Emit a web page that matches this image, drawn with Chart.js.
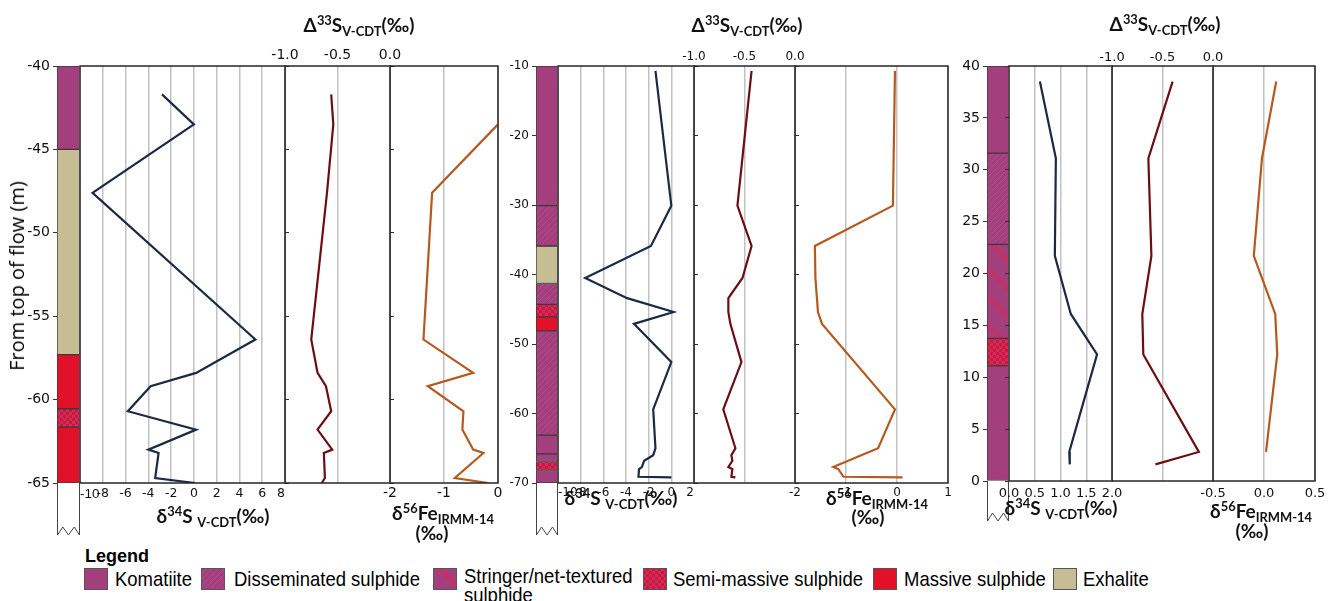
<!DOCTYPE html>
<html>
<head>
<meta charset="utf-8">
<title>S and Fe isotope profiles through komatiite-hosted sulphide</title>
<script src="https://cdn.jsdelivr.net/npm/chart.js@4.4.1/dist/chart.umd.min.js"></script>
<style>
  html, body { margin:0; padding:0; background:#fff; }
  #stage { position:relative; width:1336px; height:601px; overflow:hidden; background:#fff; }
  #stage canvas { position:absolute; }
  .t { position:absolute; white-space:nowrap; color:#111; line-height:1; }
  .ttl { font-family:Lato, 'Open Sans', sans-serif; font-weight:700; font-size:19px; transform:translateX(-50%); }
  .ttl sup { font-size:0.68em; vertical-align:0; position:relative; top:-0.55em; }
  .ttl sub { font-size:0.68em; vertical-align:0; position:relative; top:0.3em; }
  .ytitle { font-family:'Open Sans', sans-serif; font-size:20px; color:#000; transform:translate(-50%,-50%) rotate(-90deg); }
  .lgh { font-family:'Liberation Sans', Arial, sans-serif; font-weight:700; font-size:18px; color:#000; }
  .lg { font-family:'Liberation Sans', Arial, sans-serif; font-size:21px; color:#000; transform-origin:0 0; transform:scaleX(0.88); line-height:19px; }
</style>
</head>
<body>
<div id="stage"></div>
<script>
// ---------- Section A (left): depth from top of flow, m ----------
const depthA  = [-41.7, -43.5, -47.6, -56.4, -58.4, -59.2, -60.7, -61.8, -63.0, -63.2, -64.7, -65.0];
const d34sA   = [-2.8, 0.0, -8.9, 5.4, 0.2, -3.8, -5.8, 0.2, -4.0, -3.1, -3.4, 0.1];
const cap33sA = [-0.56, -0.54, -0.60, -0.75, -0.69, -0.61, -0.56, -0.69, -0.55, -0.63, -0.62, -0.65];
const d56feA  = [null, 0.0, -1.22, -1.38, -0.46, -1.30, -0.64, -0.66, -0.46, -0.27, -0.80, -0.18];
const lithTopA  = [-40, -45, -57.3, -60.55, -61.65];
const lithBaseA = [-45, -57.3, -60.55, -61.65, -65];
const lithTypeA = ['Komatiite', 'Exhalite', 'Massive', 'Semi', 'Massive'];

// ---------- Section B (middle) ----------
const depthB  = [-10.7, -30.1, -35.9, -40.5, -43.4, -45.4, -47.1, -52.6, -59.4, -65.0, -66.0, -66.8, -67.7, -68.0, -69.1, -69.2];
const d34sB   = [-1.4, 0.0, -1.8, -7.6, -3.9, 0.2, -3.3, 0.0, -1.6, -1.4, -1.6, -2.4, -2.6, -2.85, -2.9, 0.0];
const cap33sB = [-0.43, -0.57, -0.43, -0.52, -0.66, -0.66, -0.64, -0.53, -0.71, -0.59, -0.63, -0.62, -0.66, -0.62, -0.63, -0.59];
const d56feB  = [-0.04, -0.08, -1.61, -1.60, -1.57, -1.55, -1.47, null, -0.04, -0.37, null, null, -1.25, -1.15, -1.05, 0.11];
const lithTopB  = [-10, -30.1, -35.9, -41.3, -44.3, -46.1, -48.1, -63.1, -65.8, -66.9, -68.2];
const lithBaseB = [-30.1, -35.9, -41.3, -44.3, -46.1, -48.1, -63.1, -65.8, -66.9, -68.2, -70];
const lithTypeB = ['Komatiite', 'Disseminated', 'Exhalite', 'Disseminated', 'Semi', 'Massive', 'Disseminated', 'Komatiite', 'Komatiite', 'Semi', 'Komatiite'];

// ---------- Section C (right) ----------
const depthC  = [38.5, 31.1, 21.7, 16.1, 12.2, 2.8, 1.6];
const d34sC   = [0.60, 0.91, 0.89, 1.20, 1.71, 1.17, 1.18];
const cap33sC = [-0.40, -0.64, -0.61, -0.70, -0.69, -0.14, -0.57];
const d56feC  = [0.12, -0.02, -0.10, 0.11, 0.13, 0.02, null];
const lithTopC  = [40, 31.6, 22.8, 13.75, 11.1];
const lithBaseC = [31.6, 22.8, 13.75, 11.1, 0];
const lithTypeC = ['Komatiite', 'Disseminated', 'Stringer', 'Semi', 'Komatiite'];

// ---------- Legend ----------
const legendKeys   = ['Komatiite', 'Disseminated', 'Stringer', 'Semi', 'Massive', 'Exhalite'];
const legendLabels = ['Komatiite', 'Disseminated sulphide', 'Stringer/net-textured\nsulphide', 'Semi-massive sulphide', 'Massive sulphide', 'Exhalite'];

const stage = document.getElementById('stage');
const C34 = '#1b2944', C33 = '#6b0e14', CFE = '#b5591f';
const PURPLE = '#a43f7e', RED = '#e3102a', TAN = '#c6bd94';

// Lithology fills as canvas patterns
function makeFill(kind) {
  const c = document.createElement('canvas');
  const g = c.getContext('2d');
  if (kind === 'Komatiite' || kind === 'Massive' || kind === 'Exhalite') {
    c.width = c.height = 4;
    g.fillStyle = kind === 'Komatiite' ? PURPLE : kind === 'Massive' ? RED : TAN;
    g.fillRect(0, 0, 4, 4);
  } else if (kind === 'Disseminated') {
    c.width = c.height = 6;
    g.fillStyle = PURPLE; g.fillRect(0, 0, 6, 6);
    g.fillStyle = '#ae4a89';
    for (let i = 0; i < 6; i++) g.fillRect(i, 5 - i, 1, 1);
  } else if (kind === 'Semi') {
    c.width = c.height = 6;
    g.fillStyle = RED; g.fillRect(0, 0, 6, 6);
    g.fillStyle = '#b8336f';
    g.fillRect(0, 0, 3, 3); g.fillRect(3, 3, 3, 3);
  } else if (kind === 'Stringer') {
    c.width = c.height = 28;
    g.fillStyle = PURPLE; g.fillRect(0, 0, 28, 28);
    for (let y = 0; y < 28; y += 2) {
      for (let x = 0; x < 28; x += 2) {
        const d = (x + (27 - y)) % 28;
        if (d < 11 && ((x + y) / 2) % 2 === 0) { g.fillStyle = '#d42a58'; g.fillRect(x, y, 2, 2); }
      }
    }
  }
  return g.createPattern(c, 'repeat');
}
const fills = {};
legendKeys.forEach(k => { fills[k] = makeFill(k); });

// Plot-area outline
const framePlugin = {
  id: 'frame',
  afterDraw(chart) {
    const { ctx, chartArea: a } = chart;
    ctx.save();
    ctx.strokeStyle = '#262626';
    ctx.lineWidth = 1.5;
    ctx.strokeRect(a.left, a.top, a.right - a.left, a.bottom - a.top);
    ctx.restore();
  }
};

// Open box with a zig-zag break drawn under the lithology column
const tailPlugin = {
  id: 'tail',
  afterDraw(chart, args, o) {
    const { ctx, chartArea: a } = chart;
    const L = a.left, R = a.right, T = a.bottom, B = a.bottom + o.length;
    const w = R - L;
    ctx.save();
    ctx.strokeStyle = '#444';
    ctx.lineWidth = 1;
    ctx.beginPath();
    ctx.moveTo(L + 0.5, T); ctx.lineTo(L + 0.5, B);
    ctx.lineTo(L + w * 0.25, B - 8); ctx.lineTo(L + w * 0.5, B);
    ctx.lineTo(L + w * 0.75, B - 8); ctx.lineTo(R - 0.5, B);
    ctx.lineTo(R - 0.5, T);
    ctx.stroke();
    ctx.restore();
  }
};

function fmt(v, dp) { return Number(v).toFixed(dp); }

function lithColumn(o) {
  const LW = 60, PR = 6, PT = 20, PB = o.tail + 6;
  const cv = document.createElement('canvas');
  cv.width = LW + o.rect.w + PR;
  cv.height = PT + o.rect.h + PB;
  cv.style.left = (o.rect.x - LW) + 'px';
  cv.style.top = (o.rect.y - PT) + 'px';
  stage.appendChild(cv);
  new Chart(cv, {
    type: 'bar',
    data: {
      labels: ['unit'],
      datasets: o.types.map((t, i) => ({
        data: [[o.bases[i], o.tops[i]]],
        backgroundColor: fills[t],
        borderColor: '#3a3a3a',
        borderWidth: 1,
        borderSkipped: false,
        grouped: false,
        barPercentage: 1,
        categoryPercentage: 1
      }))
    },
    options: {
      responsive: false, animation: false, devicePixelRatio: 1, events: [],
      layout: { padding: { left: 0, right: PR, top: PT, bottom: PB } },
      plugins: { legend: { display: false }, tooltip: { enabled: false }, tail: { length: o.tail } },
      scales: {
        x: { display: false },
        y: {
          min: o.ymin, max: o.ymax,
          ticks: { stepSize: o.ystep, padding: 3, color: '#111', font: { family: 'DejaVu Sans', size: o.font } },
          grid: { drawOnChartArea: false, drawTicks: true, tickLength: 4, color: '#333', lineWidth: 1 },
          border: { display: false },
          afterFit(s) { s.width = LW; }
        }
      }
    },
    plugins: [tailPlugin]
  });
}

function profile(o) {
  const PADX = 34, AX = 30;
  const cv = document.createElement('canvas');
  cv.width = o.rect.w + 2 * PADX;
  cv.height = o.rect.h + 2 * AX;
  cv.style.left = (o.rect.x - PADX) + 'px';
  cv.style.top = (o.rect.y - AX) + 'px';
  stage.appendChild(cv);
  const pos = o.axis;
  const pts = [];
  o.depth.forEach((d, i) => { if (o.values[i] !== null) pts.push({ x: o.values[i], y: d }); });
  const tickFont = { family: 'DejaVu Sans', size: o.font };
  const firstFont = o.firstFont || tickFont;
  new Chart(cv, {
    type: 'scatter',
    data: { datasets: [{ data: pts, showLine: true, borderColor: o.color, borderWidth: 2.2, pointRadius: 0, tension: 0 }] },
    options: {
      responsive: false, animation: false, devicePixelRatio: 1, events: [],
      layout: { padding: { left: PADX, right: PADX, top: pos === 'top' ? 0 : AX, bottom: pos === 'top' ? AX : 0 } },
      plugins: { legend: { display: false }, tooltip: { enabled: false } },
      scales: {
        x: {
          type: 'linear', position: pos, min: o.min, max: o.max,
          ticks: { stepSize: o.step, autoSkip: false, maxRotation: 0, padding: o.pad, color: '#111', align: o.align || 'center',
                   font: c => (c.index === 0 ? firstFont : tickFont),
                   callback: v => fmt(v, o.dp) },
          grid: { color: '#c2c2c2', lineWidth: 1.5, drawTicks: false },
          border: { display: false },
          afterFit(s) { s.height = AX; }
        },
        y: {
          type: 'linear', min: o.ymin, max: o.ymax,
          ticks: { display: false, stepSize: o.ystep },
          grid: { drawOnChartArea: false, drawTicks: !!o.ytick, tickLength: o.ytick || 0, color: '#333', lineWidth: 1 },
          border: { display: false },
          afterFit(s) { s.width = 0; }
        }
      }
    },
    plugins: [framePlugin]
  });
}

// ---------- Section A ----------
const yA = { ymin: -65, ymax: -40, ystep: 5 };
lithColumn({ rect: { x: 57, y: 66, w: 23, h: 417 }, ...yA, tops: lithTopA, bases: lithBaseA, types: lithTypeA, font: 14, tail: 52 });
profile({ rect: { x: 80, y: 66, w: 205, h: 417 }, ...yA, depth: depthA, values: d34sA, color: C34, min: -10, max: 8, step: 2, dp: 0, axis: 'bottom', font: 12.5, firstFont: { family: 'Liberation Sans', size: 13.5 }, pad: 3, align: 'inner' });
profile({ rect: { x: 285, y: 66, w: 105, h: 417 }, ...yA, depth: depthA, values: cap33sA, color: C33, min: -1, max: 0, step: 0.5, dp: 1, axis: 'top', font: 14, pad: 2, ytick: -4 });
profile({ rect: { x: 390, y: 66, w: 108, h: 417 }, ...yA, depth: depthA, values: d56feA, color: CFE, min: -2, max: 0, step: 1, dp: 0, axis: 'bottom', font: 14, pad: 2, ytick: -4 });

// ---------- Section B ----------
const yB = { ymin: -70, ymax: -10, ystep: 10 };
lithColumn({ rect: { x: 536, y: 66, w: 22, h: 417 }, ...yB, tops: lithTopB, bases: lithBaseB, types: lithTypeB, font: 12, tail: 52 });
profile({ rect: { x: 558, y: 66, w: 136, h: 417 }, ...yB, depth: depthB, values: d34sB, color: C34, min: -10, max: 2, step: 2, dp: 0, axis: 'bottom', font: 12, pad: 3, align: 'inner' });
profile({ rect: { x: 694, y: 66, w: 101, h: 417 }, ...yB, depth: depthB, values: cap33sB, color: C33, min: -1, max: 0, step: 0.5, dp: 1, axis: 'top', font: 12, pad: 2, ytick: -4 });
profile({ rect: { x: 795, y: 66, w: 153, h: 417 }, ...yB, depth: depthB, values: d56feB, color: CFE, min: -2, max: 1, step: 1, dp: 0, axis: 'bottom', font: 12, pad: 3, ytick: -4 });

// ---------- Section C ----------
const yC = { ymin: 0, ymax: 40, ystep: 5 };
lithColumn({ rect: { x: 987, y: 66, w: 22, h: 415 }, ...yC, tops: lithTopC, bases: lithBaseC, types: lithTypeC, font: 14, tail: 40 });
profile({ rect: { x: 1009, y: 66, w: 103, h: 415 }, ...yC, depth: depthC, values: d34sC, color: C34, min: 0, max: 2, step: 0.5, dp: 1, axis: 'bottom', font: 13, pad: 5, ytick: 4 });
profile({ rect: { x: 1112, y: 66, w: 101, h: 415 }, ...yC, depth: depthC, values: cap33sC, color: C33, min: -1, max: 0, step: 0.5, dp: 1, axis: 'top', font: 13, pad: 1 });
profile({ rect: { x: 1213, y: 66, w: 102, h: 415 }, ...yC, depth: depthC, values: d56feC, color: CFE, min: -0.5, max: 0.5, step: 0.5, dp: 1, axis: 'bottom', font: 13, pad: 5 });

// ---------- Axis titles ----------
function addText(cls, html, left, top) {
  const d = document.createElement('div');
  d.className = 't ' + cls;
  d.innerHTML = html;
  d.style.left = left + 'px';
  d.style.top = top + 'px';
  stage.appendChild(d);
  return d;
}
const T33 = 'Δ<sup>33</sup>S<sub>V-CDT</sub>(‰)';
const T34 = 'δ<sup>34</sup>S <sub>V-CDT</sub>(‰)';
const TFE = 'δ<sup>56</sup>Fe<sub>IRMM-14</sub>';
addText('ttl', T33, 359, 15);
addText('ttl', T33, 747, 15);
addText('ttl', T33, 1165, 14);
addText('ttl', T34, 213, 506);
addText('ttl', TFE, 443, 503);
addText('ttl', '(‰)', 432, 523);
addText('ttl', T34, 621, 488);
addText('ttl', TFE, 877, 488);
addText('ttl', '(‰)', 868, 507);
addText('ttl', T34, 1061, 498);
addText('ttl', TFE, 1261, 501);
addText('ttl', '(‰)', 1252, 521);
addText('ytitle', 'From top of flow (m)', 17, 276);

// ---------- Legend ----------
addText('lgh', 'Legend', 85, 547);
const swatchX = [84, 201, 433, 643, 873, 1053];
const labelX  = [115, 234, 464, 673, 904, 1083];
legendKeys.forEach((k, i) => {
  const sw = document.createElement('canvas');
  sw.width = 24; sw.height = 22;
  sw.style.left = swatchX[i] + 'px';
  sw.style.top = '568px';
  const g = sw.getContext('2d');
  g.fillStyle = fills[k]; g.fillRect(0, 0, 24, 22);
  g.strokeStyle = '#555'; g.lineWidth = 1; g.strokeRect(0.5, 0.5, 23, 21);
  stage.appendChild(sw);
  const lines = legendLabels[i].split('\n');
  addText('lg', lines.join('<br>'), labelX[i], lines.length > 1 ? 566 : 569);
});
</script>
</body>
</html>
